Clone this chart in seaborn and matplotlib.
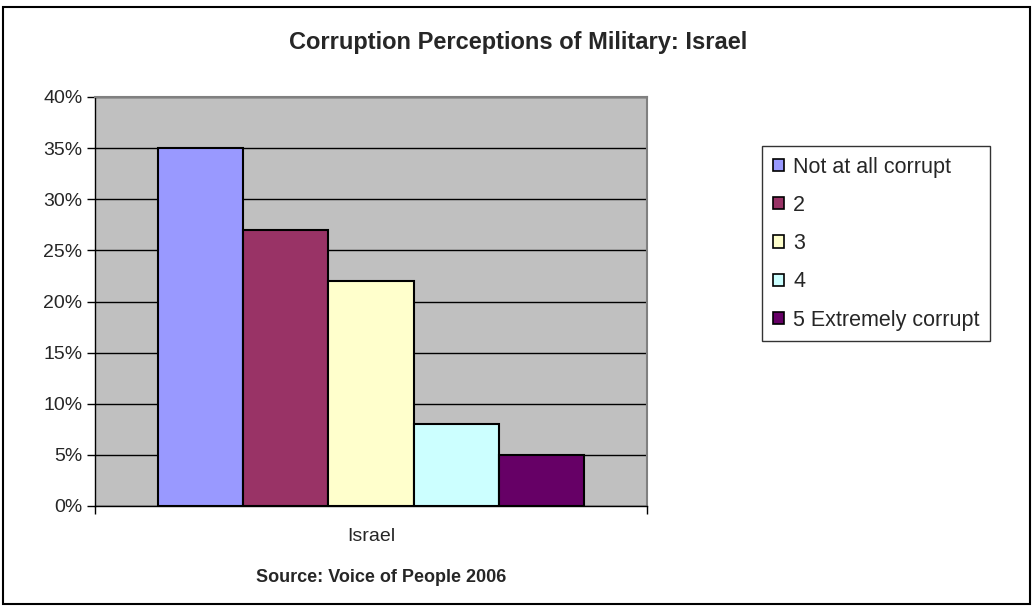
import matplotlib
matplotlib.use("Agg")
import matplotlib.pyplot as plt
import seaborn as sns
import pandas as pd
from matplotlib.patches import Rectangle
from matplotlib.ticker import FuncFormatter, FixedLocator

categories = ["Not at all corrupt", "2", "3", "4", "5 Extremely corrupt"]
values = [35, 27, 22, 8, 5]
country = ["Israel"] * 5
colors = ["#9999FF", "#993366", "#FFFFCC", "#CCFFFF", "#660066"]
yticks = [0, 5, 10, 15, 20, 25, 30, 35, 40]

df = pd.DataFrame({"country": country, "category": categories, "value": values})

sns.set_theme(style="white")
plt.rcParams["font.family"] = ["Liberation Sans", "DejaVu Sans"]

fig = plt.figure(figsize=(10.34, 6.08), dpi=100)
ax = fig.add_axes([95/1034, 1-506/608, (647-95)/1034, (506-97)/608])
ax.set_facecolor("#C0C0C0")

sns.barplot(data=df, x="country", y="value", hue="category", palette=colors,
            hue_order=categories, width=0.77, edgecolor="black", linewidth=1.5,
            saturation=1, ax=ax, legend=True, zorder=3)

ax.set_xlim(-0.5, 0.5)
ax.set_ylim(0, 40)
ax.set_yticks(yticks)
ax.yaxis.set_major_formatter(FuncFormatter(lambda v, p: f"{int(v)}%"))
ax.grid(axis="y", color="black", linewidth=1, zorder=1)
ax.set_axisbelow(True)
ax.set_xlabel("")
ax.set_ylabel("")
ax.tick_params(axis="y", which="major", left=True, length=6, width=1, color="black",
               labelsize=14, pad=3)
ax.tick_params(axis="x", which="major", bottom=False, labelsize=14, pad=10)
ax.xaxis.set_minor_locator(FixedLocator([-0.5, 0.5]))
ax.tick_params(axis="x", which="minor", bottom=True, length=6, width=1, color="black")
for s in ["top", "right"]:
    ax.spines[s].set_color("#808080")
    ax.spines[s].set_linewidth(1.5)
for s in ["left", "bottom"]:
    ax.spines[s].set_color("black")
    ax.spines[s].set_linewidth(1)

handles, labels = ax.get_legend_handles_labels()
ax.get_legend().remove()
leg = fig.legend(handles, labels, loc="upper left",
                 bbox_to_anchor=(762/1034, 1-146/608), bbox_transform=fig.transFigure,
                 borderaxespad=0, frameon=True, fancybox=False, fontsize=15.5,
                 handlelength=0.5, handleheight=0.5, handletextpad=0.45,
                 labelspacing=0.8, borderpad=0.5)
leg.get_frame().set_edgecolor("black")
leg.get_frame().set_linewidth(1)
for h in leg.legend_handles:
    h.set_edgecolor("black")
    h.set_linewidth(1.2)

fig.text(518/1034, 1-43/608, "Corruption Perceptions of Military: Israel",
         ha="center", va="center", fontsize=17, fontweight="bold")
fig.text(381/1034, 1-578/608, "Source: Voice of People 2006",
         ha="center", va="center", fontsize=13, fontweight="bold")

fig.patches.append(Rectangle((3/1034, 4/608), 1027/1034, 597/608, transform=fig.transFigure,
                             fill=False, edgecolor="black", linewidth=1.5))

fig.savefig("out.png", dpi=100)
